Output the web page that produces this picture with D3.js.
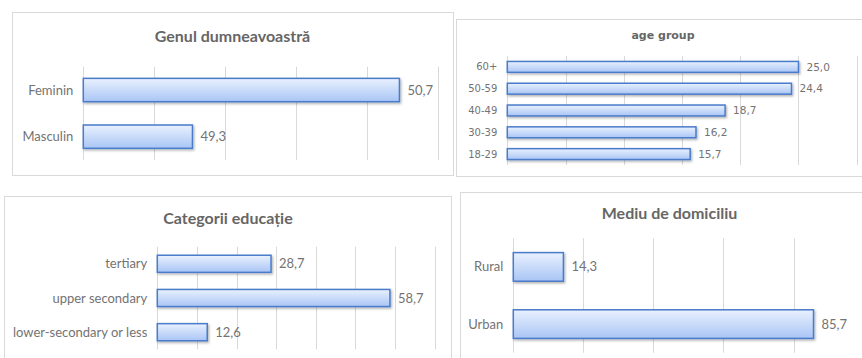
<!DOCTYPE html>
<html><head><meta charset="utf-8">
<script src="https://cdn.jsdelivr.net/npm/d3@7"></script>
<style>
html,body{margin:0;padding:0;background:#fff;}
svg{display:block;}
</style></head>
<body>
<svg id="chart" width="862" height="358"></svg>
<script>
// ---- data ----
const genderCats = ["Feminin", "Masculin"];
const genderVals = [50.73, 49.27];
const genderTicks = [48.5, 49, 49.5, 50, 50.5, 51];

const ageCats = ["60+", "50-59", "40-49", "30-39", "18-29"];
const ageVals = [25.0, 24.4, 18.7, 16.2, 15.7];
const ageTicks = [0, 5, 10, 15, 20, 25, 30];

const eduCats = ["tertiary", "upper secondary", "lower-secondary or less"];
const eduVals = [28.7, 58.7, 12.6];
const eduTicks = [0, 10, 20, 30, 40, 50, 60, 70];

const resCats = ["Rural", "Urban"];
const resVals = [14.3, 85.7];
const resTicks = [0, 20, 40, 60, 80, 100];

const titles = ["Genul dumneavoastră", "age group", "Categorii educație", "Mediu de domiciliu"];

// ---- drawing ----
const svg = d3.select("#chart");
const defs = svg.append("defs");
const grad = defs.append("linearGradient").attr("id","barGrad")
  .attr("x1",0).attr("y1",0).attr("x2",0).attr("y2",1);
grad.append("stop").attr("offset","0%").attr("stop-color","#e9f1fe");
grad.append("stop").attr("offset","100%").attr("stop-color","#a9c5f5");
const f = defs.append("filter").attr("id","shadow").attr("x","-10%").attr("y","-30%").attr("width","130%").attr("height","180%");
f.append("feDropShadow").attr("dx",1.2).attr("dy",1.5).attr("stdDeviation",1)
  .attr("flood-color","#000").attr("flood-opacity",0.3);

const fmt = v => d3.format(".1f")(v).replace(".", ",");

const panels = [
  {cats: genderCats, vals: genderVals, ticks: genderTicks, domain:[48.5,51],
   frame:[12.5,12.5,453.5,175.5], x:[83.3,437.7], y:[66.7,160],
   title: titles[0], tx:232.5, ty:42, tfont:"Lato", tsize:16, lfont:"Lato", lsize:13, vsize:13},
  {cats: ageCats, vals: ageVals, ticks: ageTicks, domain:[0,30],
   frame:[456.5,19.5,875,176.5], x:[507.3,856.7], y:[56,165],
   title: titles[1], tx:663, ty:39, tfont:"DejaVu Sans", tsize:11, lfont:"DejaVu Sans", lsize:10, vsize:10.5},
  {cats: eduCats, vals: eduVals, ticks: eduTicks, domain:[0,70],
   frame:[4.5,196.5,451.5,375], x:[157.3,434.7], y:[246.7,349.3],
   title: titles[2], tx:228, ty:224, tfont:"Lato", tsize:16, lfont:"Lato", lsize:13, vsize:13},
  {cats: resCats, vals: resVals, ticks: resTicks, domain:[0,100],
   frame:[460.5,192.5,875,375], x:[513.3,863.6], y:[238.3,352.7],
   title: titles[3], tx:669.5, ty:219, tfont:"Lato", tsize:16, lfont:"Lato", lsize:13, vsize:13}
];

panels.forEach(p => {
  const g = svg.append("g");
  const [x0,y0,x1,y1] = p.frame;
  g.append("rect").attr("x",x0).attr("y",y0).attr("width",x1-x0).attr("height",y1-y0)
    .attr("fill","#fff").attr("stroke","#d9d9d9").attr("stroke-width",1);

  const x = d3.scaleLinear().domain(p.domain).range(p.x);
  const y = d3.scaleBand().domain(p.cats).range(p.y).paddingInner(0.5).paddingOuter(0.25);

  g.selectAll("line.grid").data(p.ticks).join("line").attr("class","grid")
    .attr("x1", d => Math.round(x(d))+0.5).attr("x2", d => Math.round(x(d))+0.5)
    .attr("y1", p.y[0]).attr("y2", p.y[1])
    .attr("stroke","#d9d9d9").attr("stroke-width",1);

  g.append("text").attr("x",p.tx).attr("y",p.ty).attr("text-anchor","middle")
    .attr("font-family",p.tfont).attr("font-size",p.tsize).attr("font-weight","bold")
    .attr("fill","#666666").text(p.title);

  g.selectAll("text.cat").data(p.cats).join("text").attr("class","cat")
    .attr("x", p.x[0]-10).attr("y", d => y(d)+y.bandwidth()/2).attr("dy","0.35em")
    .attr("text-anchor","end").attr("font-family",p.lfont).attr("font-size",p.lsize)
    .attr("fill","#737373").text(d => d);

  const data = p.cats.map((c,i)=>({c, v:p.vals[i]}));
  g.selectAll("rect.bar").data(data).join("rect").attr("class","bar")
    .attr("x", x(p.domain[0])).attr("y", d => y(d.c))
    .attr("width", d => x(d.v)-x(p.domain[0])).attr("height", y.bandwidth())
    .attr("fill","url(#barGrad)").attr("stroke","#4a7bcb").attr("stroke-width",1.5)
    .attr("filter","url(#shadow)");

  g.selectAll("text.val").data(data).join("text").attr("class","val")
    .attr("x", d => x(d.v)+8).attr("y", d => y(d.c)+y.bandwidth()/2).attr("dy","0.35em")
    .attr("font-family",p.lfont).attr("font-size",p.vsize).attr("fill","#737373")
    .text(d => fmt(d.v));
});
</script>
</body></html>
